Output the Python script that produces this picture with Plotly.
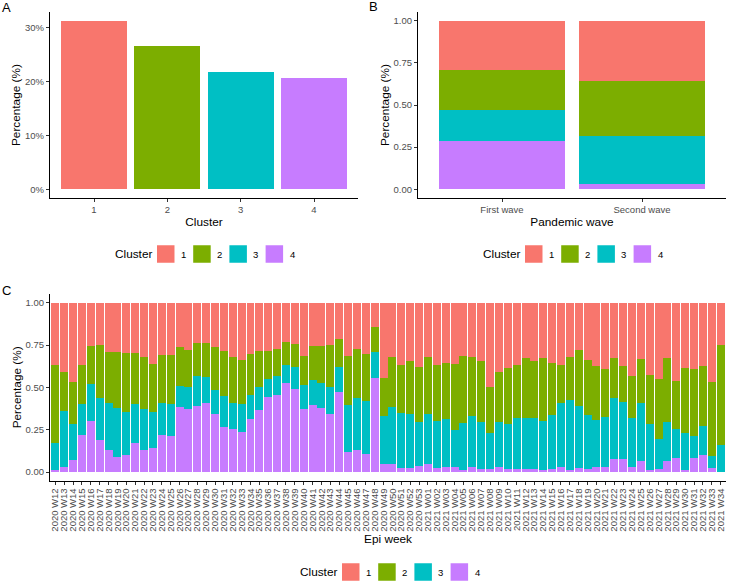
import plotly.graph_objects as go

# cluster colours (ggplot default hue palette)
clusters = ["1", "2", "3", "4"]
colors = ["#F8766D", "#7CAE00", "#00BFC4", "#C77CFF"]

# panel A: share of sequences per cluster
share_all = [0.312, 0.265, 0.217, 0.206]

# panel B: share per cluster within each pandemic wave
waves = ["First wave", "Second wave"]
wave_c1 = [0.290, 0.360]
wave_c2 = [0.240, 0.324]
wave_c3 = [0.183, 0.286]
wave_c4 = [0.287, 0.030]

# panel C: share per cluster for each epi week
weeks = [f"2020 W{w:02d}" for w in range(12, 54)] + [f"2021 W{w:02d}" for w in range(1, 35)]
week_c4 = [0.010, 0.030, 0.070, 0.220, 0.300, 0.190, 0.130, 0.090, 0.100, 0.170,
           0.130, 0.140, 0.220, 0.210, 0.385, 0.370, 0.390, 0.410, 0.340, 0.267,
           0.257, 0.238, 0.311, 0.368, 0.444, 0.457, 0.527, 0.489, 0.374, 0.394,
           0.380, 0.343, 0.475, 0.117, 0.133, 0.105, 0.558, 0.048, 0.050, 0.024,
           0.024, 0.034, 0.048, 0.024, 0.030, 0.030, 0.010, 0.030, 0.018, 0.016,
           0.030, 0.020, 0.018, 0.018, 0.016, 0.012, 0.016, 0.030, 0.014, 0.022,
           0.018, 0.028, 0.028, 0.077, 0.077, 0.030, 0.067, 0.012, 0.020, 0.067,
           0.081, 0.012, 0.085, 0.103, 0.024, 0.000]
week_c3 = [0.160, 0.330, 0.215, 0.180, 0.220, 0.250, 0.280, 0.290, 0.255, 0.230,
           0.240, 0.215, 0.190, 0.190, 0.125, 0.130, 0.175, 0.150, 0.145, 0.184,
           0.153, 0.162, 0.142, 0.137, 0.103, 0.109, 0.103, 0.133, 0.139, 0.149,
           0.143, 0.162, 0.143, 0.279, 0.305, 0.313, 0.153, 0.285, 0.336, 0.326,
           0.319, 0.263, 0.295, 0.279, 0.283, 0.216, 0.279, 0.301, 0.277, 0.216,
           0.265, 0.263, 0.303, 0.303, 0.301, 0.291, 0.321, 0.380, 0.410, 0.370,
           0.321, 0.277, 0.297, 0.363, 0.337, 0.291, 0.343, 0.273, 0.176, 0.228,
           0.174, 0.220, 0.127, 0.170, 0.073, 0.162]
week_c2 = [0.460, 0.230, 0.245, 0.230, 0.225, 0.310, 0.300, 0.330, 0.345, 0.300,
           0.310, 0.285, 0.280, 0.290, 0.230, 0.220, 0.195, 0.200, 0.255, 0.262,
           0.267, 0.263, 0.246, 0.208, 0.166, 0.163, 0.138, 0.136, 0.172, 0.204,
           0.220, 0.245, 0.166, 0.287, 0.291, 0.281, 0.144, 0.225, 0.295, 0.280,
           0.310, 0.321, 0.336, 0.327, 0.333, 0.392, 0.398, 0.346, 0.358, 0.271,
           0.297, 0.331, 0.313, 0.350, 0.340, 0.370, 0.307, 0.224, 0.255, 0.329,
           0.324, 0.319, 0.281, 0.233, 0.214, 0.247, 0.257, 0.289, 0.356, 0.376,
           0.280, 0.380, 0.394, 0.355, 0.432, 0.588]
week_c1 = [0.370, 0.410, 0.470, 0.370, 0.255, 0.250, 0.290, 0.290, 0.300, 0.300,
           0.320, 0.360, 0.310, 0.310, 0.260, 0.280, 0.240, 0.240, 0.260, 0.287,
           0.323, 0.337, 0.301, 0.287, 0.287, 0.271, 0.232, 0.242, 0.315, 0.253,
           0.257, 0.250, 0.216, 0.317, 0.271, 0.301, 0.145, 0.442, 0.319, 0.370,
           0.347, 0.382, 0.321, 0.370, 0.354, 0.362, 0.313, 0.323, 0.347, 0.497,
           0.408, 0.386, 0.366, 0.329, 0.343, 0.327, 0.356, 0.366, 0.321, 0.279,
           0.337, 0.376, 0.394, 0.327, 0.372, 0.432, 0.333, 0.426, 0.448, 0.329,
           0.465, 0.388, 0.394, 0.372, 0.471, 0.250]

W, H = 729, 582
FONT = "Arial, Liberation Sans, sans-serif"
TICK = "#4D4D4D"


def px_x(v):
    return v / W


def px_y(v):
    return 1 - v / H


fig = go.Figure()

# panel A
for i, cl in enumerate(clusters):
    fig.add_trace(go.Bar(x=[cl], y=[share_all[i]], name=cl, marker_color=colors[i],
                         marker_line_width=0, xaxis="x", yaxis="y", showlegend=False))

# panel B (cluster 4 at the bottom of the stack)
wave_vals = [wave_c1, wave_c2, wave_c3, wave_c4]
for i in [3, 2, 1, 0]:
    fig.add_trace(go.Bar(x=waves, y=wave_vals[i], name=clusters[i], marker_color=colors[i],
                         marker_line_width=0, xaxis="x2", yaxis="y2", showlegend=False))

# panel C
week_vals = [week_c1, week_c2, week_c3, week_c4]
for i in [3, 2, 1, 0]:
    fig.add_trace(go.Bar(x=weeks, y=week_vals[i], name=clusters[i], marker_color=colors[i],
                         marker_line_width=0, xaxis="x3", yaxis="y3", showlegend=False))

axis_common = dict(showline=True, linecolor="black", linewidth=1.1, ticks="outside",
                   ticklen=3, tickcolor="#333333", showgrid=False, zeroline=False,
                   tickfont=dict(size=9.5, color=TICK, family=FONT),
                   title_font=dict(size=11.8, color="black", family=FONT))

fig.update_layout(
    width=W, height=H, margin=dict(l=0, r=0, t=0, b=0),
    paper_bgcolor="white", plot_bgcolor="white",
    barmode="stack", bargap=0.1, showlegend=False,
    font=dict(family=FONT),
    xaxis=dict(axis_common, domain=[px_x(50), px_x(358)], anchor="y", range=[-0.6, 3.6],
               title=dict(text="Cluster", standoff=3)),
    yaxis=dict(axis_common, domain=[px_y(197.7), px_y(12.4)], anchor="x",
               range=[-0.0156, 0.3276], tickvals=[0, 0.1, 0.2, 0.3], tickformat=".0%",
               title=dict(text="Percentage (%)", standoff=1)),
    xaxis2=dict(axis_common, domain=[px_x(418), px_x(726)], anchor="y2", range=[-0.6, 1.6],
                title=dict(text="Pandemic wave", standoff=3)),
    yaxis2=dict(axis_common, domain=[px_y(197.7), px_y(12.4)], anchor="x2",
                range=[-0.05, 1.05], tickvals=[0, 0.25, 0.5, 0.75, 1], tickformat=".2f",
                title=dict(text="Percentage (%)", standoff=1)),
    xaxis3=dict(axis_common, domain=[px_x(50), px_x(726)], anchor="y3", range=[-0.6, 75.6],
                tickmode="linear", dtick=1, tickangle=-90,
                title=dict(text="Epi week", standoff=2)),
    yaxis3=dict(axis_common, domain=[px_y(480.5), px_y(294.2)], anchor="x3",
                range=[-0.05, 1.05], tickvals=[0, 0.25, 0.5, 0.75, 1], tickformat=".2f",
                title=dict(text="Percentage (%)", standoff=1)),
)

# panel letters
for label, x, y in [("A", 6, 7.5), ("B", 373.5, 6.5), ("C", 6, 290)]:
    fig.add_annotation(text=label, x=px_x(x), y=px_y(y), xref="paper", yref="paper",
                       showarrow=False, xanchor="center", yanchor="middle",
                       font=dict(size=13, color="black", family=FONT))

# ggplot style legends under each panel: (title left edge, centre y)
legend_spots = [(113, 254), (481, 254), (298, 572)]
KEY = 17.5
STEP = 36.2
for lx, ly in legend_spots:
    fig.add_annotation(text="Cluster", x=px_x(lx), y=px_y(ly), xref="paper", yref="paper",
                       showarrow=False, xanchor="left", yanchor="middle",
                       font=dict(size=11.8, color="black", family=FONT))
    for i, cl in enumerate(clusters):
        x0 = lx + 44 + i * STEP
        fig.add_shape(type="rect", xref="paper", yref="paper",
                      x0=px_x(x0), x1=px_x(x0 + KEY),
                      y0=px_y(ly + KEY / 2), y1=px_y(ly - KEY / 2),
                      fillcolor=colors[i], line=dict(width=0))
        fig.add_annotation(text=cl, x=px_x(x0 + KEY + 9), y=px_y(ly), xref="paper",
                           yref="paper", showarrow=False, xanchor="center",
                           yanchor="middle", font=dict(size=9.5, color="black", family=FONT))

fig.write_html("out.html", config={"displayModeBar": False},
               post_script="document.body.style.margin='0';")
